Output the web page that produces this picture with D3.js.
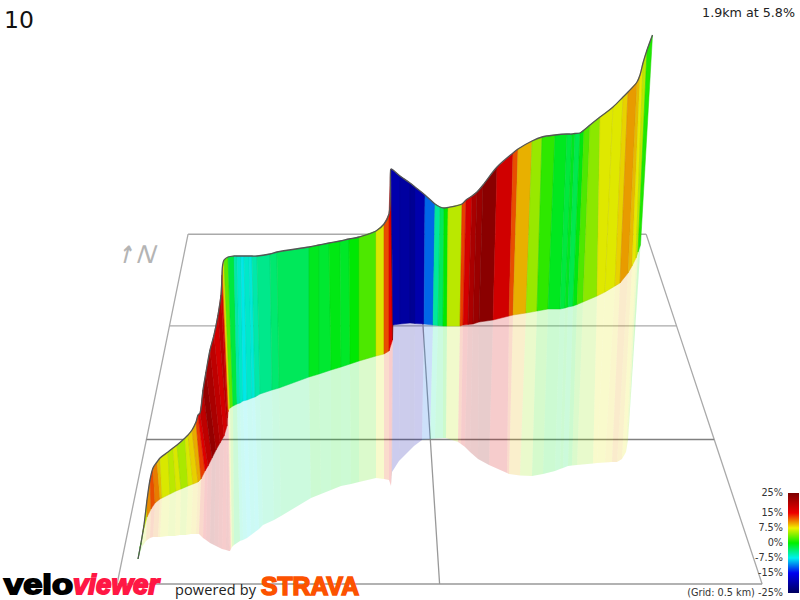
<!DOCTYPE html>
<html><head><meta charset="utf-8">
<style>html,body{margin:0;padding:0;background:#fff}svg{display:block}text{font-family:"DejaVu Sans",sans-serif}</style>
<script src="https://cdn.jsdelivr.net/npm/d3@7"></script></head>
<body><div id="c"></div>
<script>
// Ribbon stations (view units: horizontal across, vertical downward)
const ridgeX = [138,141,144,147,150,153,157,160,168,173,177,185,188,192,196,198,200,203,206,210,214,218,221,222,222.5,224,228,234,237,241,244,249,252,257,270,277,309,319,329,340,349,359,376,384,389,390.5,391,400,410,415,425,435,440,444,448,462,466,472,477,483,497,513,518,532,542,555,567,572,575,580,584,590,600,613,623,628,637,640,643,647,652.5];
const ridgeY = [559,543,525,500,480,468,462,458,452,448,445,438,435,430,422,415,413,390,372,350,335,315,295,275,266,260,257,256,256,256,256,256,256,256,254,252,247,245,243,241,239,237,231,224,214,172,169,176,183,187,195,204,207,208,207.5,204,200,196,192,185,167,153,149,141,137,135,134,134,133.5,133,130,125,117,107,97,92,82,75,63,50,35];
const footX = [138,140,143,147,151,155,160,162,170,176,181,188,193,198,201,205,208,212,216,220,224,227,227.5,228,228.5,230,233,237,240,243,247,252,255,260,272,279,309,319,331,341,350,359,376,384,389,392.5,393,400,410,415,424,433,438,443,447,460,463,468,473,479,493,509,513,526,537,548,560,565,568,573,577,583,597,605,615,620,628,632,636,638,640.5];
const footY = [559,548,532,517,509,503,499,498,494,491,489,486,484,482,479,471,466,458,450,443,436,426,418,412,410,408,406,404,403,401,400,398,397,394,390,388,377,374,370,367,364,361,356,354,351,340,325,324,323,323.5,324,325,325.5,326,326,326,325,324.5,324,322,320,316,315,313,311,309,309,308,307,306,304.5,302,296,292,286,283,273,266,258,252,245];
const mirrorX = [138,140,142,146,150,153,158,160,168,175,180,186,191,196,199,203,206,210,214,218,222,226,229,230,231,232,234,240,243,247,251,255,259,263,274,281,311,321,331,341,351,359,376,384,389,391,392,399,410,414,422,430,435,443,446,458,461,465,470,478,489,507,509,520,532,543,555,560,563,568,572,577,593,597,605,612,617,622,626,628,639];
const mirrorY = [559,553,547,541,538,537,537,537,536,536,535,535,534,534,534,538,540,543,545,547,549,550,551,551,549,547,545,541,540,538,535,532,529,525,520,516,498,494,490,486,484,482,478,479,480,486,472,461,450,446,440,439,438.5,438,438,442,444,447,452,459,465,473,474,475.5,476,474,471,469,468,466,465.5,465,463.5,463,462.5,462,462,459,452,440,270];
const gradePct = [1,3,6.5,10.5,12.5,11,9,7,6,7,5.5,7,8.3,9.5,13,16,19,23,21,19,17,19,17,13,8,3,-2,-5.5,-6.5,-7.5,-6.5,-7,-5.5,-4.5,-3.6,-2.9,-1,-1.6,-0.6,-1.3,-0.1,2.5,7,12.5,15.5,24,-20,-21,-22,-20,-11.7,-5,-3,0,6,13,17,21,22.5,24,17.3,12.5,9.3,4.9,1.5,-1,-2,-1,-2.5,-0.5,2.5,4.5,7.2,7.2,8.2,10,9,7.5,6,1];

// Floor grid in km, and the perspective it was photographed with
const gridEast = [-0.5,0,0.5];
const gridNorth = [0,0.5,1,1.5];
const gridNorthColor = ['#999','#808080','#aaa','#aaa'];

// Legend
const legendStops = [25,15,7.5,0,-7.5,-15,-25];
const legendLabels = ['25%','15%','7.5%','0%','-7.5%','-15%','-25%'];
const legendColors = ['#7c0000','#ee0000','#f0f000','#00f000','#00f0f0','#0000f0','#00005e'];
const wallColors = ['#800000','#e80000','#e8e800','#00e800','#00e8e8','#0000e8','#000070'];

const W=800,H=600;
const svg=d3.select('#c').append('svg').attr('width',W).attr('height',H);
const sx=d3.scaleLinear().domain([0,800]).range([0,W]);
const sy=d3.scaleLinear().domain([0,600]).range([0,H]);
const wall=d3.scaleLinear().domain(legendStops).range(wallColors);

// grid
const eastS=d3.scaleLinear().domain([-0.5,0.5]).range([-244.9,400.1]);
const depthW=d3.scaleLinear().domain([0,1.5]).range([1,1.408]);
const floorX=(e,n)=>362+eastS(e)/depthW(n);
const floorY=n=>-623+1207/depthW(n);
const gridG=svg.append('g').attr('fill','none').attr('stroke-width',1.3);
gridEast.forEach((e,i)=>{
  const p=gridNorth.map(n=>[floorX(e,n),floorY(n)]);
  gridG.append('path').attr('d',d3.line()(p)).attr('stroke',i==1?'#999':'#aaa');
});
gridNorth.forEach((n,i)=>{
  gridG.append('line').attr('x1',floorX(-0.5,n)).attr('x2',floorX(0.5,n))
    .attr('y1',floorY(n)).attr('y2',floorY(n)).attr('stroke',gridNorthColor[i]);
});

// north marker
svg.append('text').attr('transform','translate(135,263) skewX(-18)')
  .attr('font-size',26).attr('fill','#b4b4b4').style('font-family','"Liberation Sans"').text('N');
svg.append('text').attr('transform','translate(117,263) skewX(-14) scale(0.75,1)')
  .attr('font-size',24).attr('font-weight',700).attr('fill','#b4b4b4').style('font-family','"DejaVu Sans"').text('↑');

const idx=d3.range(gradePct.length);
const poly=d3.line().x(d=>sx(d[0])).y(d=>sy(d[1]));
// reflection
svg.append('g').selectAll('path').data(idx).join('path')
  .attr('d',i=>poly([[footX[i],footY[i]],[footX[i+1],footY[i+1]],[mirrorX[i+1],mirrorY[i+1]],[mirrorX[i],mirrorY[i]]])+'Z')
  .attr('fill',i=>wall(gradePct[i])).attr('fill-opacity',0.2);
// wall
svg.append('g').selectAll('path').data(idx).join('path')
  .attr('d',i=>poly([[ridgeX[i],ridgeY[i]],[ridgeX[i+1],ridgeY[i+1]],[footX[i+1],footY[i+1]],[footX[i],footY[i]]])+'Z')
  .attr('fill',i=>wall(gradePct[i])).attr('stroke',i=>d3.color(wall(gradePct[i])).darker(0.25)).attr('stroke-width',0.5);
// ridge line
svg.append('path').attr('d',poly.curve(d3.curveCatmullRom)(ridgeX.map((x,i)=>[x,ridgeY[i]]))).attr('fill','none')
  .attr('stroke','#555').attr('stroke-width',1.3);

// legend
const defs=svg.append('defs');
const lg=defs.append('linearGradient').attr('id','lg').attr('x1',0).attr('x2',0).attr('y1',0).attr('y2',1);
const legY=d3.scaleLinear().domain(legendStops).range([493,513,528,543,558,573,593]);
legendStops.forEach((s,i)=>lg.append('stop').attr('offset',(legY(s)-493)/100).attr('stop-color',legendColors[i]));
svg.append('rect').attr('x',788).attr('y',493).attr('width',11).attr('height',100).attr('fill','url(#lg)');
svg.append('g').selectAll('text').data(legendLabels).join('text')
  .attr('x',783).attr('y',(d,i)=>legY(legendStops[i])+2.7).attr('text-anchor','end').attr('font-size',9.7).attr('fill','#333')
  .text((d,i)=>i==6?'(Grid: 0.5 km) '+d:d);

svg.append('text').attr('x',4).attr('y',28).attr('font-size',23.5).attr('fill','#111').text('10');
svg.append('text').attr('x',795).attr('y',17).attr('text-anchor','end').attr('font-size',12.7).attr('fill','#222').text('1.9km at 5.8%');

// wordmarks
const velo=svg.append('text').attr('x',4).attr('y',594).style('font-family','"Liberation Sans"').attr('font-size',28).attr('font-weight',700).attr('stroke-width',1.8);
velo.append('tspan').attr('fill','#000').attr('stroke','#000').attr('textLength',69).attr('lengthAdjust','spacingAndGlyphs').text('velo');
velo.append('tspan').attr('fill','#ff1744').attr('stroke','#ff1744').attr('font-style','italic').attr('textLength',86).attr('lengthAdjust','spacingAndGlyphs').text('viewer');
svg.append('text').attr('x',175).attr('y',595).attr('font-size',14.5).attr('fill','#222').style('font-family','"Open Sans"').attr('textLength',81).text('powered by');
svg.append('text').attr('x',261).attr('y',595).style('font-family','"Liberation Sans"').attr('font-size',25).attr('font-weight',700).attr('fill','#fc5200').attr('stroke','#fc5200').attr('stroke-width',1.6).attr('textLength',98).attr('lengthAdjust','spacingAndGlyphs').text('STRAVA');
</script></body></html>
